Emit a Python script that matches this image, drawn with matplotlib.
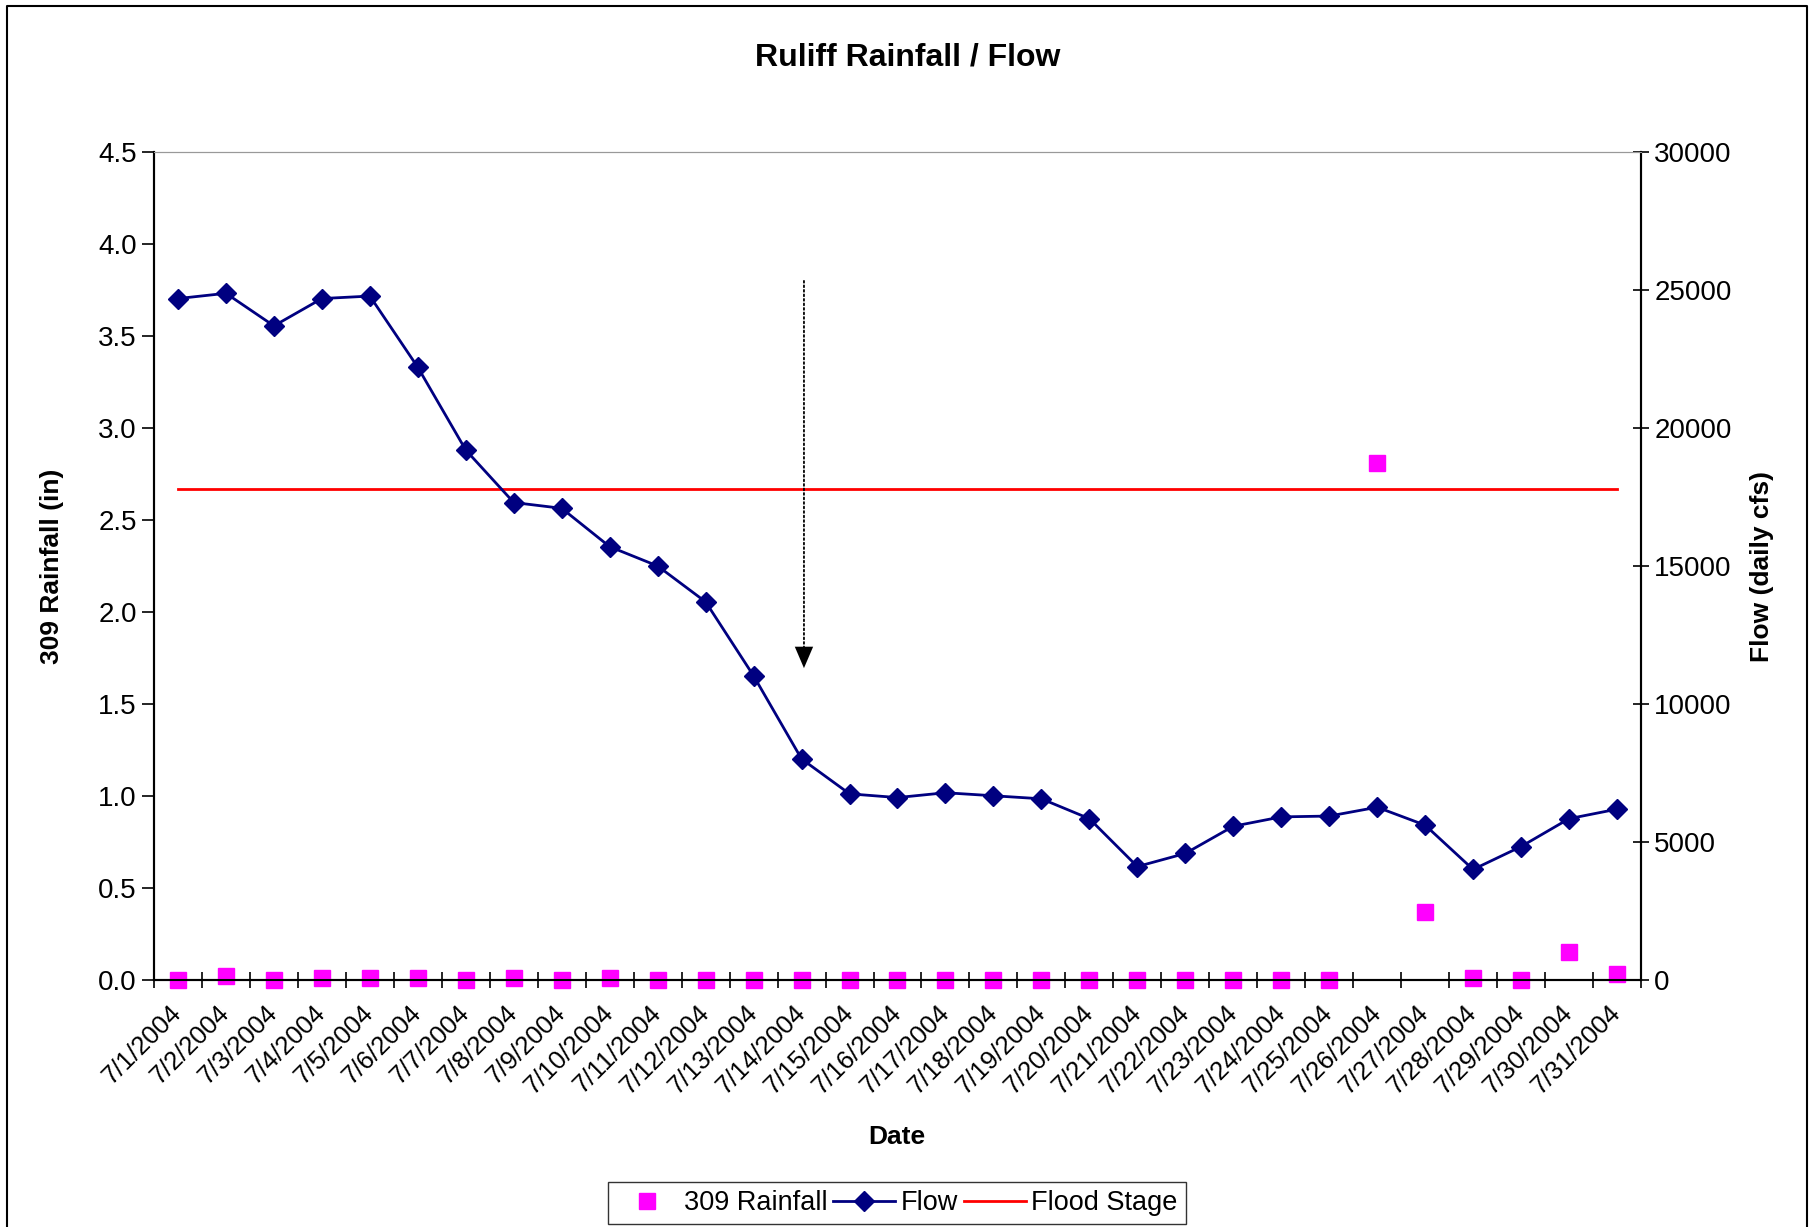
import matplotlib.pyplot as plt
import numpy as np
from matplotlib.lines import Line2D

plt.rcParams['font.family'] = ['Liberation Sans', 'DejaVu Sans']

# data
dates = [f"7/{d}/2004" for d in range(1, 32)]
rainfall = [0.00, 0.02, 0.00, 0.01, 0.01, 0.01, 0.00, 0.01, 0.00, 0.01,
            0.00, 0.00, 0.00, 0.00, 0.00, 0.00, 0.00, 0.00, 0.00, 0.00,
            0.00, 0.00, 0.00, 0.00, 0.00, 2.81, 0.37, 0.01, 0.00, 0.15, 0.03]
flow = [24690, 24880, 23700, 24690, 24780, 22200, 19200, 17300, 17090, 15700,
        15000, 13700, 11020, 8010, 6745, 6610, 6785, 6675, 6565, 5845,
        4110, 4585, 5570, 5910, 5940, 6260, 5610, 4005, 4835, 5845, 6190]
flood_stage = [17800] * 31

x = np.arange(len(dates))

fig = plt.figure(figsize=(18.15, 12.27), dpi=100)
ax = fig.add_axes([154 / 1815, 1 - 980 / 1227, 1487 / 1815, 828 / 1227])
ax2 = ax.twinx()

# rainfall on the left axis
ax.plot(x, rainfall, linestyle='none', marker='s', markersize=11,
        color='#FF00FF', clip_on=False, zorder=5)
ax.set_ylim(0, 4.5)
ax.set_yticks(np.arange(0, 4.51, 0.5))
ax.set_yticklabels([f"{v:.1f}" for v in np.arange(0, 4.51, 0.5)])
ax.set_xlim(-0.5, len(dates) - 0.5)

# flow + flood stage on the right axis
ax2.plot(x, flood_stage, color='#FF0000', linewidth=2)
ax2.plot(x, flow, color='#000080', linewidth=2, marker='D', markersize=10)
ax2.set_ylim(0, 30000)
ax2.set_yticks(np.arange(0, 30001, 5000))

# dotted arrow: dotted shaft + solid head
ax2.annotate('', xy=(13.05, 11700), xytext=(13.05, 25330),
             arrowprops=dict(arrowstyle='-', linestyle=(0, (1, 1.5)),
                             color='black', lw=1.3, shrinkA=0, shrinkB=0))
ax2.annotate('', xy=(13.05, 11300), xytext=(13.05, 12200),
             arrowprops=dict(arrowstyle='-|>,head_length=0.7,head_width=0.3',
                             color='black', lw=0.01, mutation_scale=22,
                             shrinkA=0, shrinkB=0))

# x ticks: marks at category boundaries, labels at centres
ax.set_xticks(x)
ax.set_xticklabels(dates, rotation=45, ha='right', va='center',
                   rotation_mode='anchor', fontsize=18.5)
ax.tick_params(axis='x', which='major', length=0, pad=21)
ax.set_xticks(np.arange(-0.5, len(dates), 1), minor=True)
ax.tick_params(axis='x', which='minor', length=12, direction='inout', width=1.2)
ax.tick_params(axis='y', labelsize=20, length=9, width=1.2, direction='out')
ax2.tick_params(axis='y', labelsize=20, length=12, width=1.2, direction='inout')

for a in (ax, ax2):
    a.spines['top'].set_color('#999999')
    a.spines['left'].set_linewidth(1.5)
    a.spines['right'].set_linewidth(1.5)
    a.spines['bottom'].set_linewidth(1.5)

fig.text(0.5, 1 - 58 / 1227, 'Ruliff Rainfall / Flow', ha='center', va='center',
         fontsize=23, fontweight='bold')
fig.text(52 / 1815, 1 - 566 / 1227, '309 Rainfall (in)', rotation=90,
         ha='center', va='center', fontsize=19, fontweight='bold')
fig.text(1762 / 1815, 1 - 566 / 1227, 'Flow (daily cfs)', rotation=90,
         ha='center', va='center', fontsize=19, fontweight='bold')
fig.text(897 / 1815, 1 - 1137 / 1227, 'Date', ha='center', va='center',
         fontsize=19, fontweight='bold')

handles = [
    Line2D([], [], linestyle='none', marker='s', markersize=11, color='#FF00FF'),
    Line2D([], [], color='#000080', linewidth=2, marker='D', markersize=10),
    Line2D([], [], color='#FF0000', linewidth=2),
]
leg = fig.legend(handles, ['309 Rainfall', 'Flow', 'Flood Stage'],
                 loc='center', bbox_to_anchor=(897 / 1815, 1 - 1203 / 1227),
                 ncol=3, fontsize=19.5, frameon=True, fancybox=False,
                 edgecolor='black', handlelength=2.3, handletextpad=0.2,
                 columnspacing=0.2, borderpad=0.3)
leg.get_frame().set_linewidth(1.0)

# outer chart border (left, top, right)
fig.add_artist(Line2D([7 / 1815, 7 / 1815, 1807 / 1815, 1807 / 1815],
                      [0, 1 - 6 / 1227, 1 - 6 / 1227, 0],
                      transform=fig.transFigure, color='black', linewidth=1.5))

fig.savefig('out.png', dpi=100)
